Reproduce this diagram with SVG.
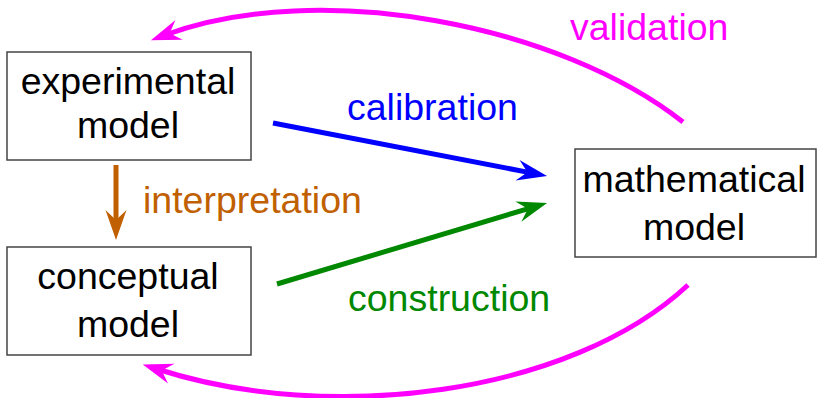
<svg xmlns="http://www.w3.org/2000/svg" width="817" height="398" viewBox="0 0 817 398">
<style>
.box{fill:#fff;stroke:#444;stroke-width:1.5}
.t{font-family:"Liberation Sans",Arial,sans-serif;font-size:37.5px;text-anchor:middle}
.lbl{font-family:"Liberation Sans",Arial,sans-serif;font-size:37.5px}
.c{fill:none;stroke-width:5}
</style>
<defs>
<marker id="hm" markerUnits="userSpaceOnUse" orient="auto" markerWidth="40" markerHeight="30" viewBox="-20 -15 40 30" refX="0" refY="0"><path d="M15,0 L-15,-10.5 L-5,0 L-15,10.5 Z" fill="#ff00ff"/></marker>
<marker id="hb" markerUnits="userSpaceOnUse" orient="auto" markerWidth="40" markerHeight="30" viewBox="-20 -15 40 30" refX="0" refY="0"><path d="M15,0 L-15,-10.5 L-5,0 L-15,10.5 Z" fill="#0000ff"/></marker>
<marker id="hg" markerUnits="userSpaceOnUse" orient="auto" markerWidth="40" markerHeight="30" viewBox="-20 -15 40 30" refX="0" refY="0"><path d="M15,0 L-15,-10.5 L-5,0 L-15,10.5 Z" fill="#008800"/></marker>
<marker id="ho" markerUnits="userSpaceOnUse" orient="auto" markerWidth="40" markerHeight="30" viewBox="-20 -15 40 30" refX="0" refY="0"><path d="M15,0 L-15,-10.5 L-5,0 L-15,10.5 Z" fill="#c06000"/></marker>
</defs>
<g id="experimental">
<rect class="box" x="7" y="52" width="244" height="108"/>
<text class="t" x="128" y="94">experimental</text>
<text class="t" x="128" y="138">model</text>
</g>
<g id="conceptual">
<rect class="box" x="7" y="247" width="244" height="108"/>
<text class="t" x="128" y="289">conceptual</text>
<text class="t" x="128" y="337">model</text>
</g>
<g id="mathematical">
<rect class="box" x="575" y="149" width="241" height="108"/>
<text class="t" x="694" y="192">mathematical</text>
<text class="t" x="694" y="240">model</text>
</g>
<g id="connectors">
<path class="c" stroke="#ff00ff" d="M683,122 C560,25 320,-22 165,35" marker-end="url(#hm)"/>
<path class="c" stroke="#ff00ff" d="M688,285 C570,395 330,425 157,369" marker-end="url(#hm)"/>
<path class="c" stroke="#0000ff" d="M273,123 L532.3,173.1" marker-end="url(#hb)"/>
<path class="c" stroke="#008800" d="M277,284 L532.7,207.3" marker-end="url(#hg)"/>
<path class="c" stroke="#c06000" d="M116,165 L116,225" marker-end="url(#ho)"/>
<text class="lbl" x="570" y="40" fill="#ff00ff">validation</text>
<text class="lbl" x="347" y="120" fill="#0000ff">calibration</text>
<text class="lbl" x="143" y="213" fill="#c06000">interpretation</text>
<text class="lbl" x="348" y="311" fill="#008800">construction</text>
</g>
</svg>
